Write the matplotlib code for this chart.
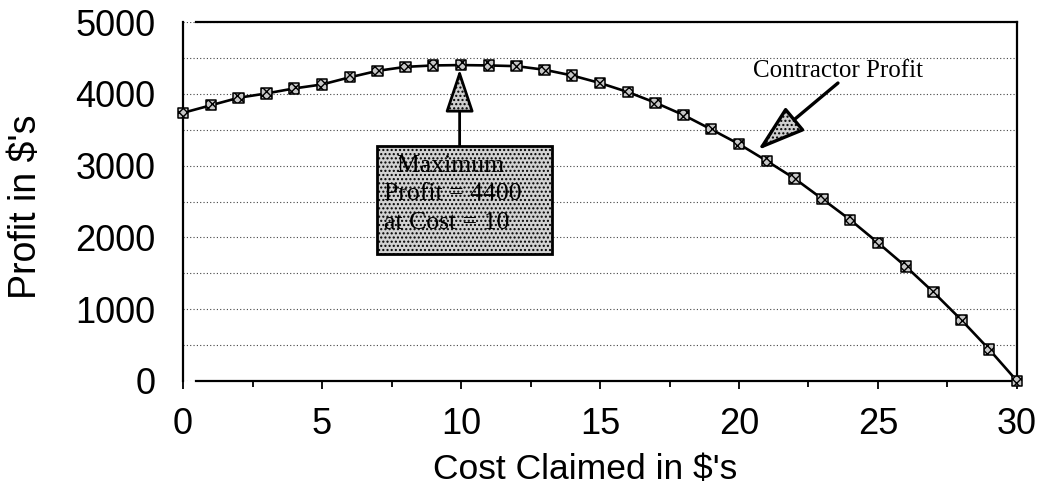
"""Contractor profit versus claimed cost, with the maximum annotated."""

import matplotlib

matplotlib.use("Agg")

import matplotlib.pyplot as plt
from matplotlib.patches import Rectangle

COST = list(range(0, 31))
PROFIT = [
    3735, 3840, 3945, 4005, 4075, 4130, 4230, 4320, 4375, 4395,
    4400, 4395, 4385, 4335, 4255, 4150, 4025, 3875, 3705, 3505,
    3300, 3065, 2820, 2535, 2245, 1925, 1595, 1235, 850, 440, 0,
]
X_TICKS = [0, 5, 10, 15, 20, 25, 30]
Y_TICKS = [0, 1000, 2000, 3000, 4000, 5000]

SANS = "Liberation Sans"
SERIF = "Liberation Serif"

fig = plt.figure(figsize=(10.37, 5.0), dpi=100)
ax = fig.add_axes([0.1765, 0.238, 0.8042, 0.718])

ax.plot(COST, PROFIT, color="black", linewidth=1.9, zorder=3)
ax.scatter(COST, PROFIT, marker="s", s=55, facecolor="#c8c8c8",
           edgecolor="black", linewidth=1.1, hatch="xxxx", zorder=4, clip_on=False)

ax.set_xlim(0, 30)
ax.set_ylim(0, 5000)
ax.set_xticks(X_TICKS)
ax.set_xticks([2.5 + 5 * i for i in range(6)], minor=True)
ax.set_yticks(Y_TICKS)
ax.set_yticks(list(range(500, 5000, 1000)), minor=True)
ax.set_xticklabels([str(t) for t in X_TICKS], fontfamily=SANS, fontsize=26)
ax.set_yticklabels([str(t) for t in Y_TICKS], fontfamily=SANS, fontsize=26)
ax.tick_params(axis="x", which="major", direction="out", length=6, width=1.3, pad=13)
ax.tick_params(axis="x", which="minor", direction="out", length=4, width=1.3)
ax.tick_params(axis="y", which="both", length=0, pad=20)

ax.grid(axis="y", which="both", linestyle=(0, (1, 2)), color="#444444", linewidth=0.8)
ax.set_axisbelow(True)

for side in ("left", "right", "top", "bottom"):
    ax.spines[side].set_linewidth(1.6)
ax.spines["top"].set_bounds(0.45, 30)
ax.spines["bottom"].set_bounds(0.45, 30)

ax.set_xlabel("Cost Claimed in $'s", fontfamily=SANS, fontsize=25.5)
ax.set_ylabel("Profit in $'s", fontfamily=SANS, fontsize=27)
ax.xaxis.set_label_coords(0.482, -0.2)
ax.yaxis.set_label_coords(-0.167, 0.485)

# maximum-profit call-out box
box = Rectangle((6.97, 1770), 6.29, 1505, facecolor="#d2d2d2", edgecolor="black",
                linewidth=2.0, hatch="....", zorder=5)
ax.add_patch(box)
ax.text(7.22, 2600, "  Maximum\nProfit = 4400\nat Cost = 10", fontfamily=SERIF,
        fontsize=18.5, ha="left", va="center", linespacing=1.4, zorder=6)
ax.annotate("", xy=(9.95, 4400), xytext=(9.95, 3275),
            arrowprops=dict(arrowstyle="-|>,head_length=2.7,head_width=0.9",
                            mutation_scale=10, facecolor="#cfcfcf", edgecolor="black",
                            hatch="....", linewidth=2.0, shrinkA=0, shrinkB=3),
            zorder=6)

# series label with arrow
ax.text(20.5, 4234, "Contractor Profit", fontfamily=SERIF, fontsize=18,
        ha="left", va="baseline", zorder=6)
ax.annotate("", xy=(20.68, 3217), xytext=(23.56, 4150),
            arrowprops=dict(arrowstyle="-|>,head_length=3.0,head_width=0.95",
                            mutation_scale=10, facecolor="#cfcfcf", edgecolor="black",
                            hatch="....", linewidth=2.4, shrinkA=0, shrinkB=0),
            zorder=6)

fig.savefig("out.png", dpi=100)
